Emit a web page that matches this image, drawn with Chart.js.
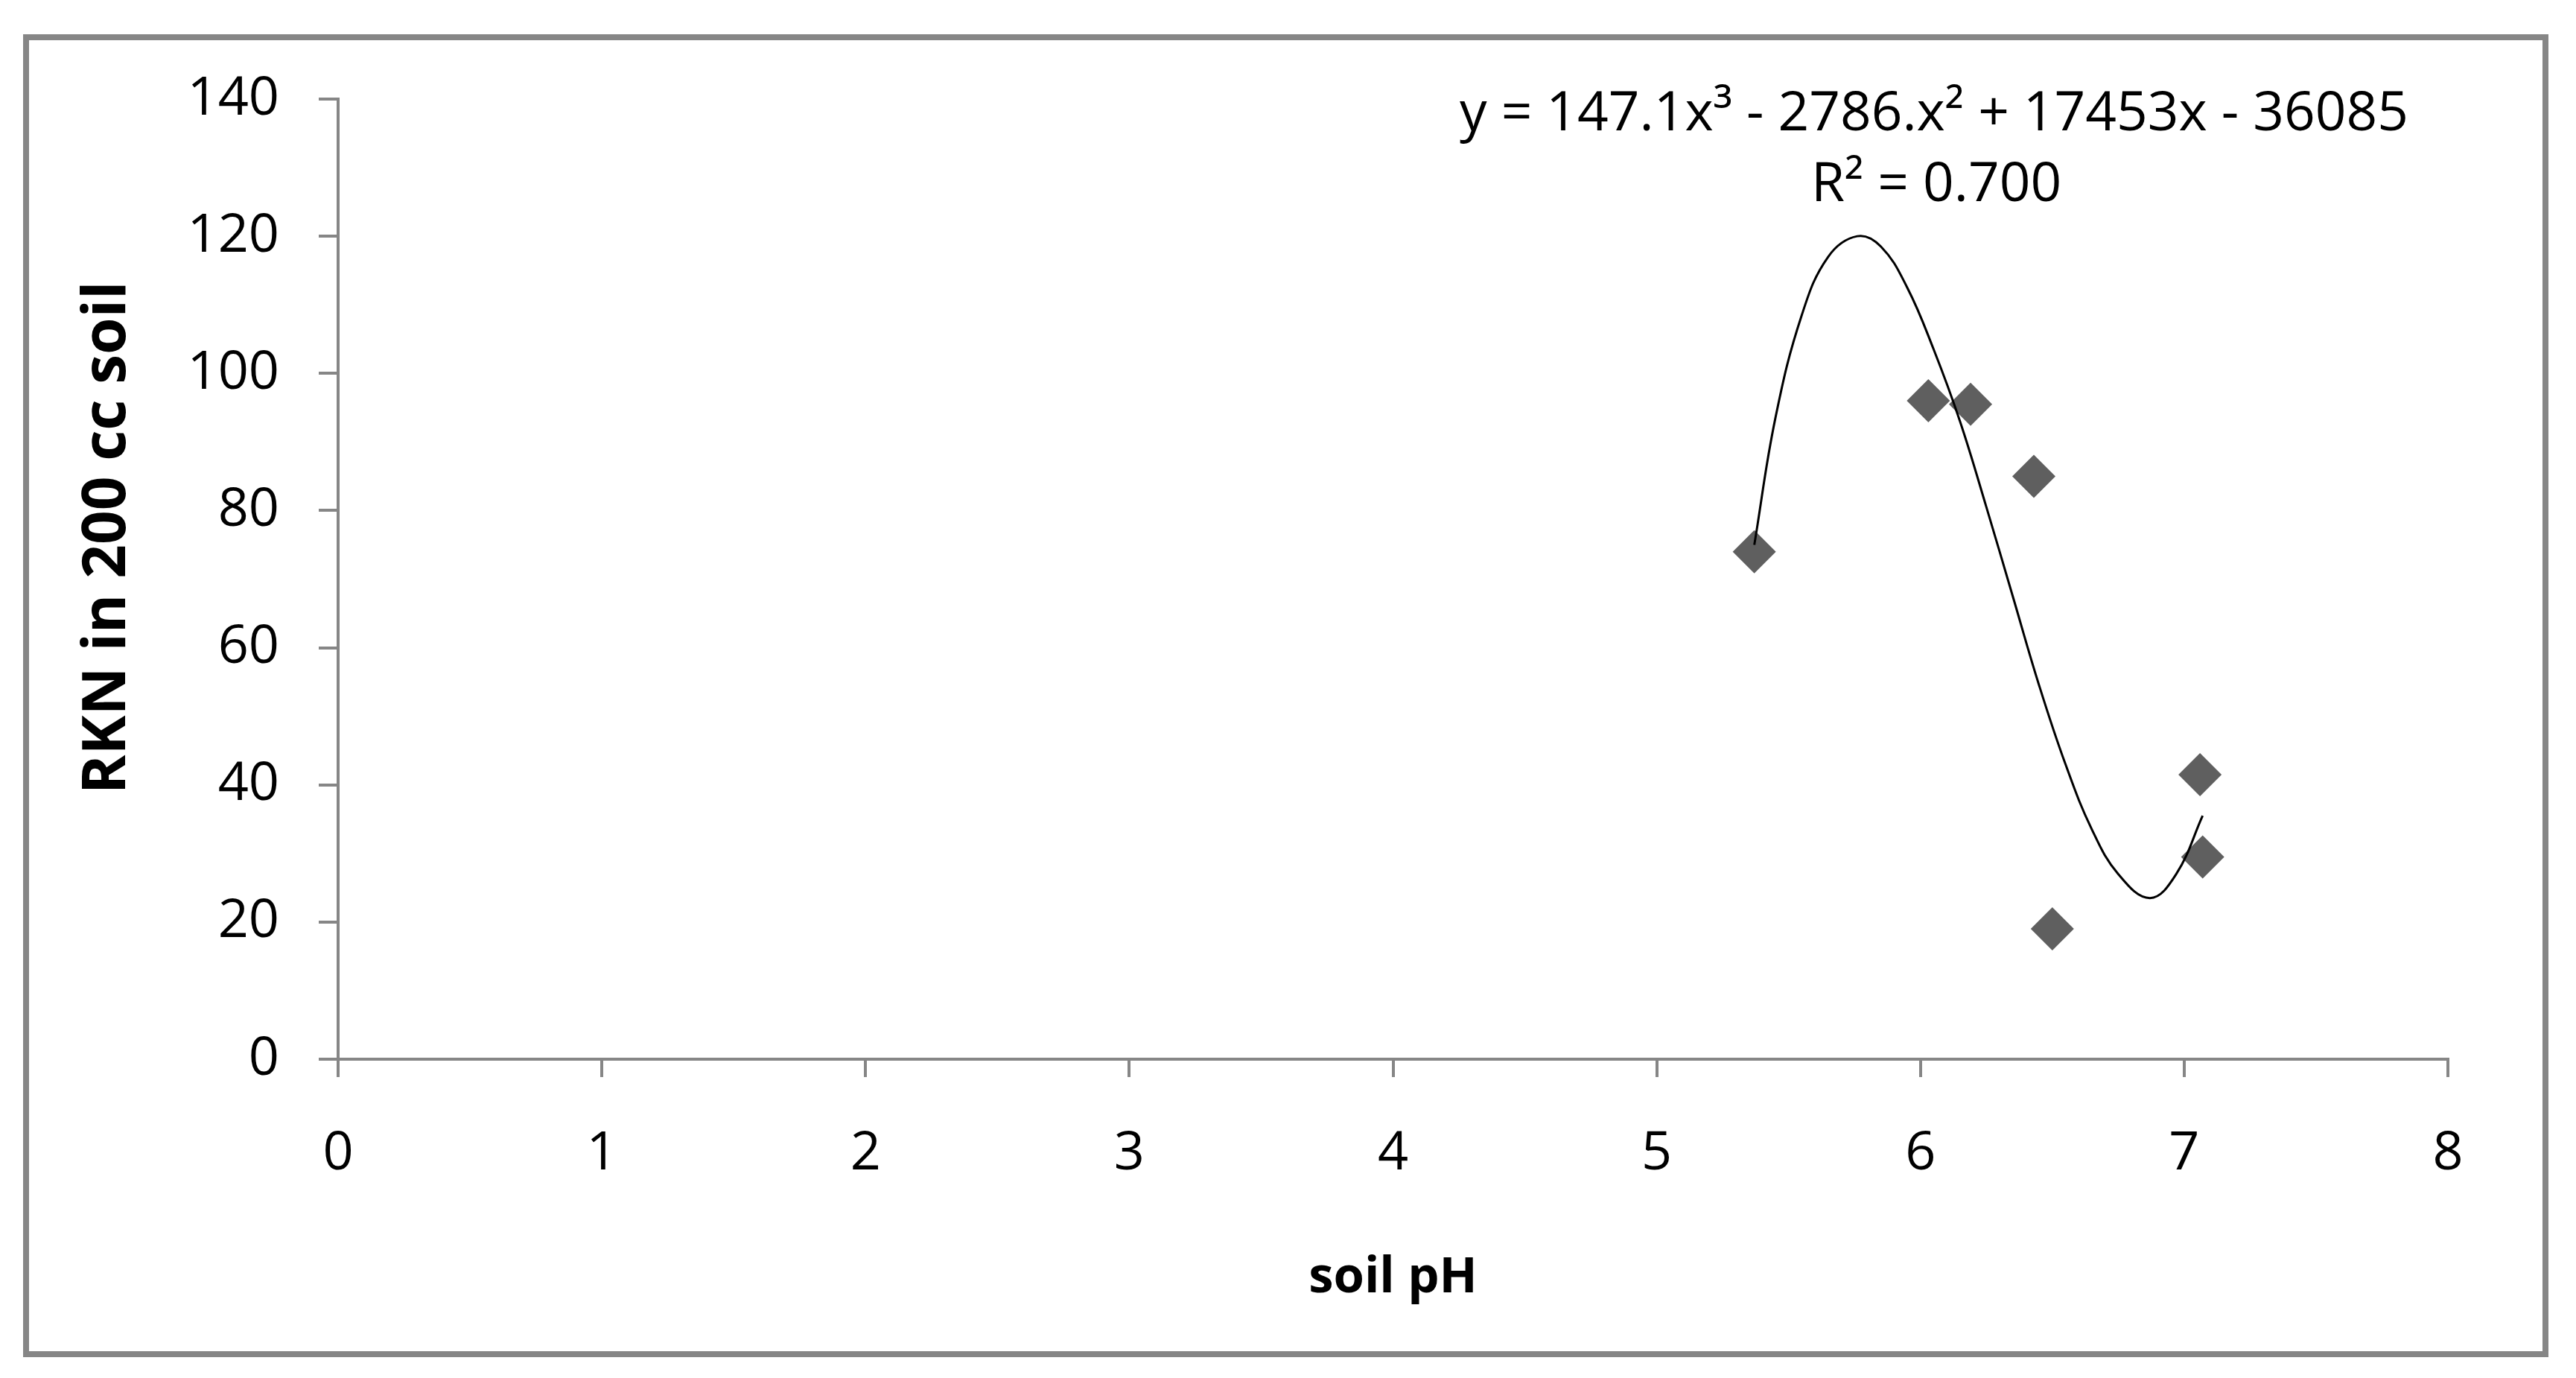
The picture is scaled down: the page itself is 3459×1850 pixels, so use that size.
<!DOCTYPE html>
<html>
<head>
<meta charset="utf-8">
<script src="https://cdn.jsdelivr.net/npm/chart.js@4.4.0/dist/chart.umd.min.js"></script>
<style>
  html, body { margin: 0; padding: 0; background: #fff; }
</style>
</head>
<body>
<canvas id="grafico" width="3459" height="1850"></canvas>
<script>
// puntos medidos: pH del suelo vs RKN en 200 cc de suelo
const phSuelo = [5.37, 6.03, 6.19, 6.43, 6.50, 7.06, 7.07];
const rkn = [74, 96, 95.5, 85, 19, 41.5, 29.5];

// linea de tendencia (polinomica)
const curvaX = [5.37, 5.45, 5.55, 5.65, 5.76, 5.85, 5.95, 6.05, 6.15, 6.25, 6.35, 6.45, 6.55, 6.65, 6.75, 6.87, 6.97, 7.07];
const curvaY = [75, 93.5, 108.5, 117, 120, 118.5, 112.5, 103.5, 93, 80.5, 67.5, 54.5, 43, 33.5, 27, 23.5, 27, 35.5];

const ticksX = [0, 1, 2, 3, 4, 5, 6, 7, 8];
const ticksY = [0, 20, 40, 60, 80, 100, 120, 140];

const ecuacion = 'y = 147.1x³ - 2786.x² + 17453x - 36085';
const textoR2 = 'R² = 0.700';
const tituloX = 'soil pH';
const tituloY = 'RKN in 200 cc soil';

const gris = '#868686';
const fuente = '"Open Sans", "Liberation Sans", sans-serif';

// marco exterior, ecuacion y titulo vertical
const extras = {
    id: 'extras',
    beforeDraw(chart) {
        const c = chart.ctx;
        c.save();
        c.fillStyle = '#fff';
        c.fillRect(0, 0, chart.width, chart.height);
        c.strokeStyle = gris;
        c.lineWidth = 8;
        c.strokeRect(35, 50, 3383, 1768);
        c.restore();
    },
    afterDraw(chart) {
        const c = chart.ctx;
        c.save();
        c.fillStyle = '#000';
        c.textAlign = 'center';
        c.textBaseline = 'middle';
        c.font = '73px ' + fuente;
        c.fillText(ecuacion, 2597, 154);
        c.fillText(textoR2, 2600, 249);

        c.font = 'bold 80px ' + fuente;
        c.translate(145, 722);
        c.rotate(-Math.PI / 2);
        c.fillText(tituloY, 0, 0);
        c.restore();
    }
};

const ctx = document.getElementById('grafico');

new Chart(ctx, {
    type: 'scatter',
    data: {
        datasets: [
            {
                label: 'tendencia',
                data: curvaX.map((x, i) => ({ x: x, y: curvaY[i] })),
                showLine: true,
                borderColor: '#000',
                borderWidth: 3,
                pointRadius: 0,
                tension: 0.4,
                order: 0
            },
            {
                label: 'RKN',
                data: phSuelo.map((x, i) => ({ x: x, y: rkn[i] })),
                pointStyle: 'rectRot',
                pointRadius: 29,
                pointHoverRadius: 29,
                backgroundColor: '#5f5f5f',
                borderWidth: 0,
                order: 1
            }
        ]
    },
    options: {
        responsive: false,
        animation: false,
        devicePixelRatio: 1,
        layout: { padding: { left: 0, right: 172, top: 133, bottom: 0 } },
        plugins: {
            legend: { display: false },
            tooltip: { enabled: false }
        },
        scales: {
            x: {
                type: 'linear',
                min: 0,
                max: 8,
                afterBuildTicks: (s) => { s.ticks = ticksX.map(v => ({ value: v })); },
                afterFit: (s) => { s.height = 428; },
                ticks: { color: '#000', padding: 60, font: { family: fuente, size: 72 } },
                grid: { drawOnChartArea: false, tickLength: 24, color: gris, lineWidth: 4 },
                border: { color: gris, width: 4 },
                title: {
                    display: true,
                    text: tituloX,
                    color: '#000',
                    font: { family: fuente, size: 67, weight: 'bold' },
                    padding: { top: 0, bottom: 94 }
                }
            },
            y: {
                min: 0,
                max: 140,
                afterBuildTicks: (s) => { s.ticks = ticksY.map(v => ({ value: v })); },
                afterFit: (s) => { s.width = 454; },
                ticks: { color: '#000', padding: 53, font: { family: fuente, size: 72 } },
                grid: { drawOnChartArea: false, tickLength: 26, color: gris, lineWidth: 4 },
                border: { color: gris, width: 4 }
            }
        }
    },
    plugins: [extras]
});
</script>
</body>
</html>
